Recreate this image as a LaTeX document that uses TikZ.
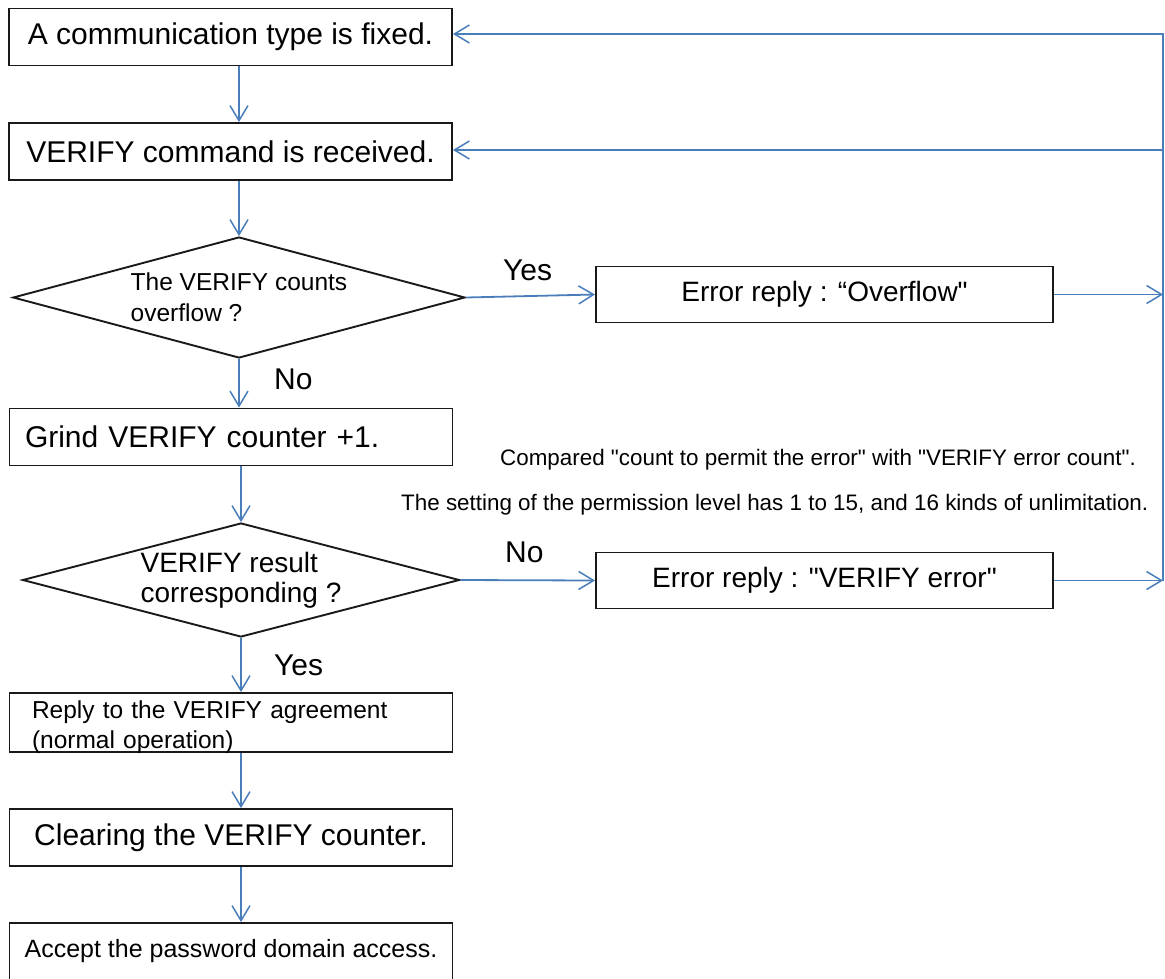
\documentclass[tikz,border=0pt]{standalone}
\usepackage{fontspec}
\setmainfont{Liberation Sans}[Ligatures=TeXOff]
\usetikzlibrary{shapes.geometric,arrows.meta}
\definecolor{flowblue}{RGB}{74,126,187}
\begin{document}
\begin{tikzpicture}[x=1pt,y=-1pt,
    box/.style={draw=black!90,line width=1.9pt,minimum width=443pt,minimum height=57pt,inner sep=0pt,font=\fontsize{30}{34}\selectfont},
    decision/.style={draw=black!90,line width=1.9pt,diamond,inner sep=0pt,align=left},
    errbox/.style={draw=black!90,line width=1.9pt,minimum width=457pt,minimum height=56pt,inner sep=0pt,font=\fontsize{28}{32}\selectfont},
    flow/.style={draw=flowblue,line width=1.8pt,-{Straight Barb[length=15pt,width=18pt,line width=1.5pt]}},
    lab/.style={anchor=base west,inner sep=0pt,font=\fontsize{30}{34}\selectfont},
    note/.style={anchor=base west,inner sep=0pt,font=\fontsize{22.4}{26}\selectfont}]
      \useasboundingbox (0,0) rectangle (1165,978);
      \node[box] (comm) at (230.5,37) {A communication type is fixed.};
      \node[box] (recv) at (230.5,151.5) {VERIFY command is received.};
      \node[decision,minimum width=452pt,minimum height=121pt,aspect=3.7,font=\fontsize{24.5}{31}\selectfont] (ovf) at (239,297.5) {The VERIFY counts\\overflow ?};
      \node[box,text width=412pt,align=left] (grind) at (231,437) {Grind VERIFY counter +1.};
      \node[decision,minimum width=437pt,minimum height=114pt,aspect=3.83,font=\fontsize{28}{30}\selectfont] (match) at (241,580) {VERIFY result\\corresponding ?};
      \node[box,text width=398pt,align=left,minimum height=59pt,text height=0pt,text depth=9pt,font=\fontsize{24.5}{30}\selectfont] (agree) at (231,722.5) {Reply to the VERIFY agreement\\(normal operation)};
      \node[box] (clear) at (231,837.5) {Clearing the VERIFY counter.};
      \node[box,font=\fontsize{25}{30}\selectfont] (access) at (231,951.5) {Accept the password domain access.};
      \node[errbox] (ovferr) at (824.5,294.5) {Error reply : “Overflow"};
      \node[errbox] (vererr) at (824.5,580.5) {Error reply : "VERIFY error"};
      \node[note] (cmpnote) at (500,465) {Compared "count to permit the error" with "VERIFY error count".};
      \node[note] (lvlnote) at (401,510) {The setting of the permission level has 1 to 15, and 16 kinds of unlimitation.};
      \node[lab] (yesovf) at (503,280) {Yes};
      \node[lab] (noovf) at (274,389) {No};
      \node[lab] (nomatch) at (505,562) {No};
      \node[lab] (yesmatch) at (274,675) {Yes};
      \coordinate (loop) at (1163,34);
      \coordinate (back) at (1163,150);
      \draw[flow] (comm.south -| ovf.north) -- (recv.north -| ovf.north);
      \draw[flow] (recv.south -| ovf.north) -- (ovf.north);
      \draw[flow] (ovf.south) -- (grind.north -| ovf.south);
      \draw[flow] (grind.south -| match.north) -- (match.north);
      \draw[flow] (match.south) -- (agree.north -| match.south);
      \draw[flow] (agree.south -| match.south) -- (clear.north -| match.south);
      \draw[flow] (clear.south -| match.south) -- (access.north -| match.south);
      \draw[flow] (ovf.east) -- (ovferr.west);
      \draw[flow] (match.east) -- (vererr.west);
      \draw[flow] (ovferr.east) -- (ovferr.east -| loop);
      \draw[flow] (vererr.east) -- (vererr.east -| loop);
      \draw[flow] (vererr.east -| loop) -- (loop) -- (comm.east |- loop);
      \draw[flow] (back) -- (back -| recv.east);
    \end{tikzpicture}
\end{document}
